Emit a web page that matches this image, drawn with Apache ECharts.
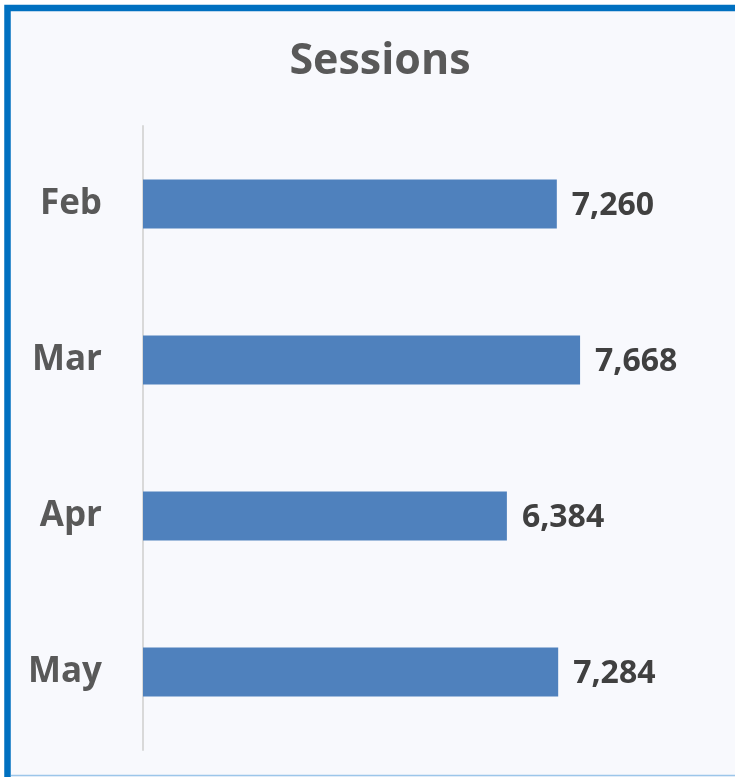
<!DOCTYPE html>
<html>
<head>
<meta charset="utf-8">
<script src="https://cdn.jsdelivr.net/npm/echarts@6/dist/echarts.min.js"></script>
<style>
  html, body { margin: 0; padding: 0; background: #ffffff; }
  #chart { width: 735px; height: 777px; }
</style>
</head>
<body>
<div id="chart"></div>
<script>
// Monthly session counts
const months = ['Feb', 'Mar', 'Apr', 'May'];
const sessions = [7260, 7668, 6384, 7284];
const chartTitle = 'Sessions';

const chart = echarts.init(document.getElementById('chart'), null, { renderer: 'canvas' });

const option = {
  backgroundColor: '#ffffff',
  animation: false,
  graphic: [
    {
      type: 'rect',
      z: -10,
      silent: true,
      shape: { x: 7.5, y: 8, width: 1000, height: 1000 },
      style: { fill: '#f8f9fd', stroke: '#0070c0', lineWidth: 6.5 }
    },
    {
      type: 'line',
      z: -9,
      silent: true,
      shape: { x1: 11, y1: 775.5, x2: 735, y2: 775.5 },
      style: { stroke: '#9cc6ea', lineWidth: 1.5 }
    }
  ],
  title: {
    text: chartTitle,
    left: 375,
    top: 35,
    textAlign: 'center',
    textStyle: {
      fontFamily: 'Open Sans',
      fontWeight: 'bold',
      fontSize: 43,
      color: '#595959'
    }
  },
  grid: {
    left: 143,
    top: 126,
    width: 570,
    height: 624,
    containLabel: false
  },
  xAxis: {
    type: 'value',
    min: 0,
    max: 10000,
    show: false
  },
  yAxis: {
    type: 'category',
    data: months,
    inverse: true,
    axisLine: { show: true, lineStyle: { color: '#d9d9d9', width: 2 } },
    axisTick: { show: false },
    splitLine: { show: false },
    axisLabel: {
      margin: 41,
      padding: [5, 0, 0, 0],
      fontFamily: 'Open Sans',
      fontWeight: 'bold',
      fontSize: 35,
      color: '#595959'
    }
  },
  series: [
    {
      type: 'bar',
      data: sessions,
      barWidth: 49,
      itemStyle: { color: '#4f81bd' },
      label: {
        show: true,
        position: 'right',
        distance: 15,
        offset: [0, 2],
        fontFamily: 'Open Sans',
        fontWeight: 'bold',
        fontSize: 32,
        color: '#404040',
        formatter: p => p.value.toLocaleString('en-US')
      }
    }
  ]
};

chart.setOption(option);
</script>
</body>
</html>
